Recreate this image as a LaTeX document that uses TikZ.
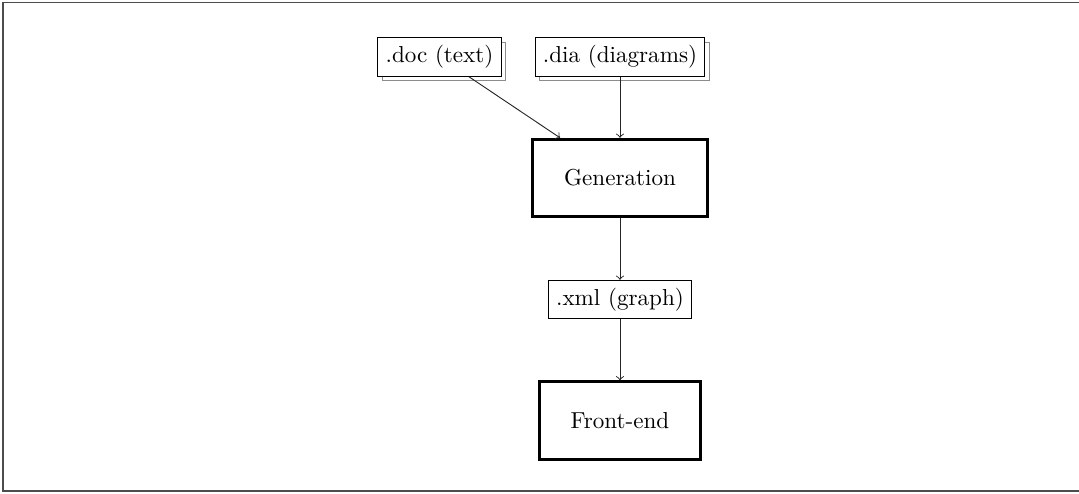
\documentclass[tikz,border=0pt]{standalone}
\usetikzlibrary{shadows}
\begin{document}
\begin{tikzpicture}[x=0.4329pt,y=-0.4329pt,
  filebox/.style={draw, fill=white, line width=0.4pt,
    copy shadow={shadow xshift=2pt, shadow yshift=-2pt, draw=black!45, fill=white}},
  plainbox/.style={draw, line width=0.4pt},
  procbox/.style={draw, line width=1.3pt, inner xsep=13.5pt, minimum height=33.5pt},
  conn/.style={->, line width=0.4pt, black!85}]
\useasboundingbox (0,0) rectangle (1079,493);
\draw[black!70, line width=0.7pt] (1079,2.5) -- (3,2.5) -- (3,491) -- (1079,491);
\node[filebox] (doc) at (439.5,57) {.doc (text)};
\node[filebox] (dia) at (620,57) {.dia (diagrams)};
\node[procbox] (gen) at (620,178) {Generation};
\node[plainbox] (xml) at (620,299.5) {.xml (graph)};
\node[procbox] (fe) at (620,420.5) {Front-end};
\draw[conn] (doc) -- (gen);
\draw[conn] (dia) -- (gen);
\draw[conn] (gen) -- (xml);
\draw[conn] (xml) -- (fe);
\end{tikzpicture}
\end{document}
